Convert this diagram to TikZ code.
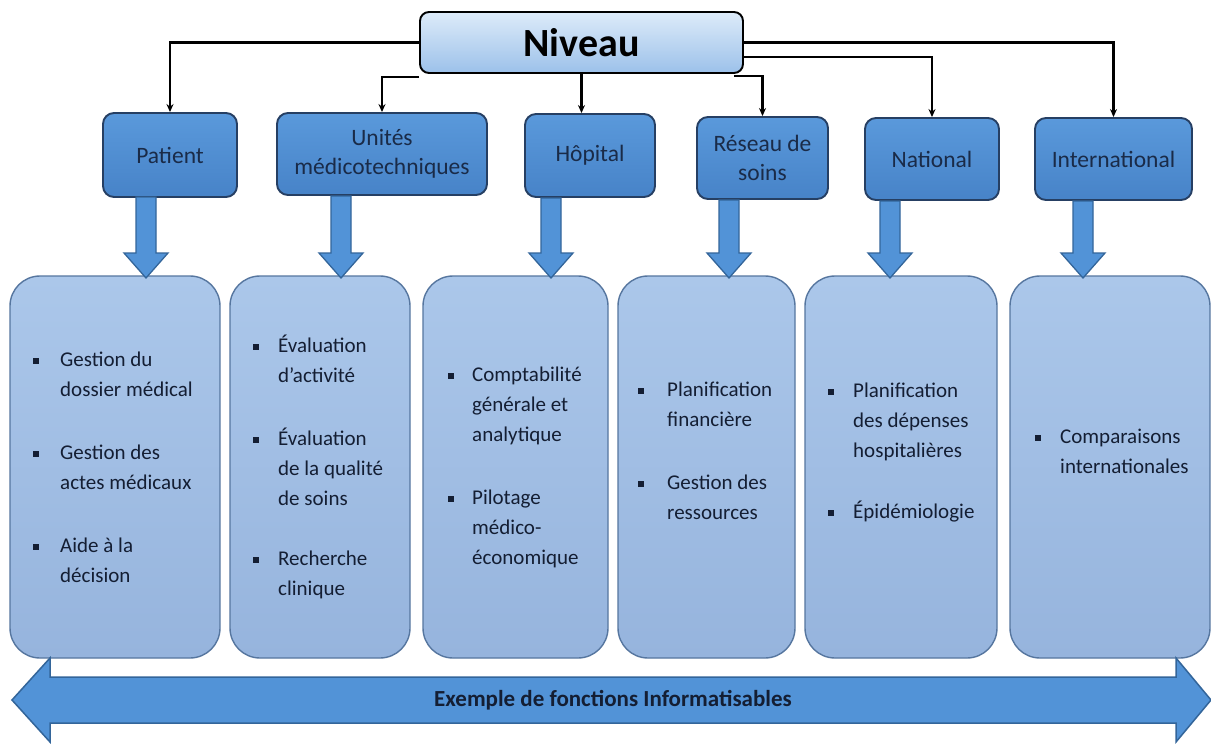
\documentclass[tikz,border=0pt]{standalone}
\usepackage{fontspec}
\setmainfont{Carlito}
\usetikzlibrary{arrows.meta}

\definecolor{levelT}{HTML}{5A99DB}
\definecolor{levelB}{HTML}{4783C8}
\definecolor{leveldraw}{HTML}{263F63}
\definecolor{panelT}{HTML}{ABC7EA}
\definecolor{panelB}{HTML}{96B4DD}
\definecolor{paneldraw}{HTML}{56769F}
\definecolor{arrowfill}{HTML}{5293D7}
\definecolor{arrowdraw}{HTML}{33659A}
\definecolor{rootT}{HTML}{DDEBF9}
\definecolor{rootB}{HTML}{9CC1EA}
\definecolor{inktext}{HTML}{141E33}
\definecolor{labeltext}{HTML}{1A2B48}

\tikzset{
  rootbox/.style={draw=black, line width=1.9pt, rounded corners=9pt,
    top color=rootT, bottom color=rootB, inner sep=0pt,
    font=\fontsize{40}{44}\selectfont\bfseries, text=black},
  levelbox/.style={draw=leveldraw, line width=1.9pt, rounded corners=11pt,
    top color=levelT, bottom color=levelB, inner sep=0pt, align=center,
    font=\fontsize{23.5}{29}\selectfont, text=labeltext},
  panelbox/.style={draw=paneldraw, line width=1.4pt, rounded corners=30pt,
    top color=panelT, bottom color=panelB, inner sep=0pt},
  paneltext/.style={anchor=west, inner sep=0pt, text=inktext,
    font=\fontsize{21}{30}\selectfont},
  conn/.style={draw=black, line width=2.2pt,
    -{Stealth[length=8pt,width=7pt]}},
  blockarrow/.style={draw=arrowdraw, line width=1.3pt, fill=arrowfill,
    line join=miter},
  bandtext/.style={inner sep=0pt, text=inktext,
    font=\fontsize{23}{26}\selectfont\bfseries}
}

% square bullet of the item lists
\newcommand\bul{\rule[2.5pt]{6pt}{6pt}}
% thick downward arrow: centre x, top y, tip y
\newcommand\thickdown[3]{%
  \draw[blockarrow] (#1-10,#2) -- (#1+10,#2) -- (#1+10,#3-25)
    -- (#1+22,#3-25) -- (#1,#3) -- (#1-22,#3-25) -- (#1-10,#3-25) -- cycle;}

\begin{document}
\begin{tikzpicture}[x=1pt,y=-1pt]
\useasboundingbox (0,0) rectangle (1211,744);
\fill[white] (0,0) rectangle (1211,744);

% top node
\node[rootbox, minimum width=323pt, minimum height=61pt] (root) at (581.5,42.5) {Niveau};

% second row
\node[levelbox, minimum width=134pt, minimum height=84pt] (pat) at (170,155) {Patient};
\node[levelbox, minimum width=210pt, minimum height=82pt] (uni) at (382,154) {Unités\\médicotechniques};
\node[levelbox, minimum width=130pt, minimum height=83pt] (hop) at (590,155.5) {Hôpital};
\node[levelbox, minimum width=131pt, minimum height=82pt] (res) at (762.5,158) {Réseau de\\soins};
\node[levelbox, minimum width=134pt, minimum height=82pt] (nat) at (932,159) {National};
\node[levelbox, minimum width=157pt, minimum height=82pt] (int) at (1113.5,159) {International};

% connectors from the top node
\draw[conn] (root.west) -| (pat.north);
\draw[conn] ([yshift=-3pt]root.south west) -| (uni.north);
\draw[conn] (root.south) -- (root.south |- hop.north);
\draw[conn] ([xshift=-10pt,yshift=-2pt]root.south east) -| (res.north);
\draw[conn] ([yshift=-14.5pt]root.east) -| (nat.north);
\draw[conn] (root.east) -| (int.north);

% function panels
\node[panelbox, minimum width=210pt, minimum height=382pt] (p1) at (115,467) {};
\node[panelbox, minimum width=180pt, minimum height=382pt] (p2) at (320,467) {};
\node[panelbox, minimum width=185pt, minimum height=382pt] (p3) at (515.5,467) {};
\node[panelbox, minimum width=177pt, minimum height=382pt] (p4) at (706.5,467) {};
\node[panelbox, minimum width=192pt, minimum height=382pt] (p5) at (901,467) {};
\node[panelbox, minimum width=200pt, minimum height=382pt] (p6) at (1110,467) {};

% thick arrows from each level to its panel
\thickdown{146}{197}{278}
\thickdown{341}{196}{278}
\thickdown{551}{198}{278}
\thickdown{729}{200}{278}
\thickdown{890}{201}{278}
\thickdown{1083}{201}{278}

% panel contents
\node[paneltext] (t1) at (33,468) {\begin{tabular}{@{}p{27pt}@{}l@{}}
\bul & Gestion du\\ & dossier médical\\[33pt]
\bul & Gestion des\\ & actes médicaux\\[33pt]
\bul & Aide à la\\ & décision\end{tabular}};
\node[paneltext] (t2) at (253,468) {\begin{tabular}{@{}p{25pt}@{}l@{}}
\bul & Évaluation\\ & d’activité\\[33pt]
\bul & Évaluation\\ & de la qualité\\ & de soins\\[30pt]
\bul & Recherche\\ & clinique\end{tabular}};
\node[paneltext] (t3) at (448,467) {\begin{tabular}{@{}p{24pt}@{}l@{}}
\bul & Comptabilité\\ & générale et\\ & analytique\\[33pt]
\bul & Pilotage\\ & médico-\\ & économique\end{tabular}};
\node[paneltext] (t4) at (638,452) {\begin{tabular}{@{}p{29pt}@{}l@{}}
\bul & Planification\\ & financière\\[33pt]
\bul & Gestion des\\ & ressources\end{tabular}};
\node[paneltext] (t5) at (828,452) {\begin{tabular}{@{}p{25pt}@{}l@{}}
\bul & Planification\\ & des dépenses\\ & hospitalières\\[31pt]
\bul & Épidémiologie\end{tabular}};
\node[paneltext] (t6) at (1035,452) {\begin{tabular}{@{}p{25pt}@{}l@{}}
\bul & Comparaisons\\ & internationales\end{tabular}};

% double-headed band along the bottom
\draw[blockarrow, line width=1.5pt] (12,700) -- (50,658) -- (50,677) -- (1176,677)
  -- (1176,658) -- (1211,700) -- (1176,742) -- (1176,723) -- (50,723) -- (50,742) -- cycle;
\node[bandtext] (band) at (613,700) {Exemple de fonctions Informatisables};
\end{tikzpicture}
\end{document}
